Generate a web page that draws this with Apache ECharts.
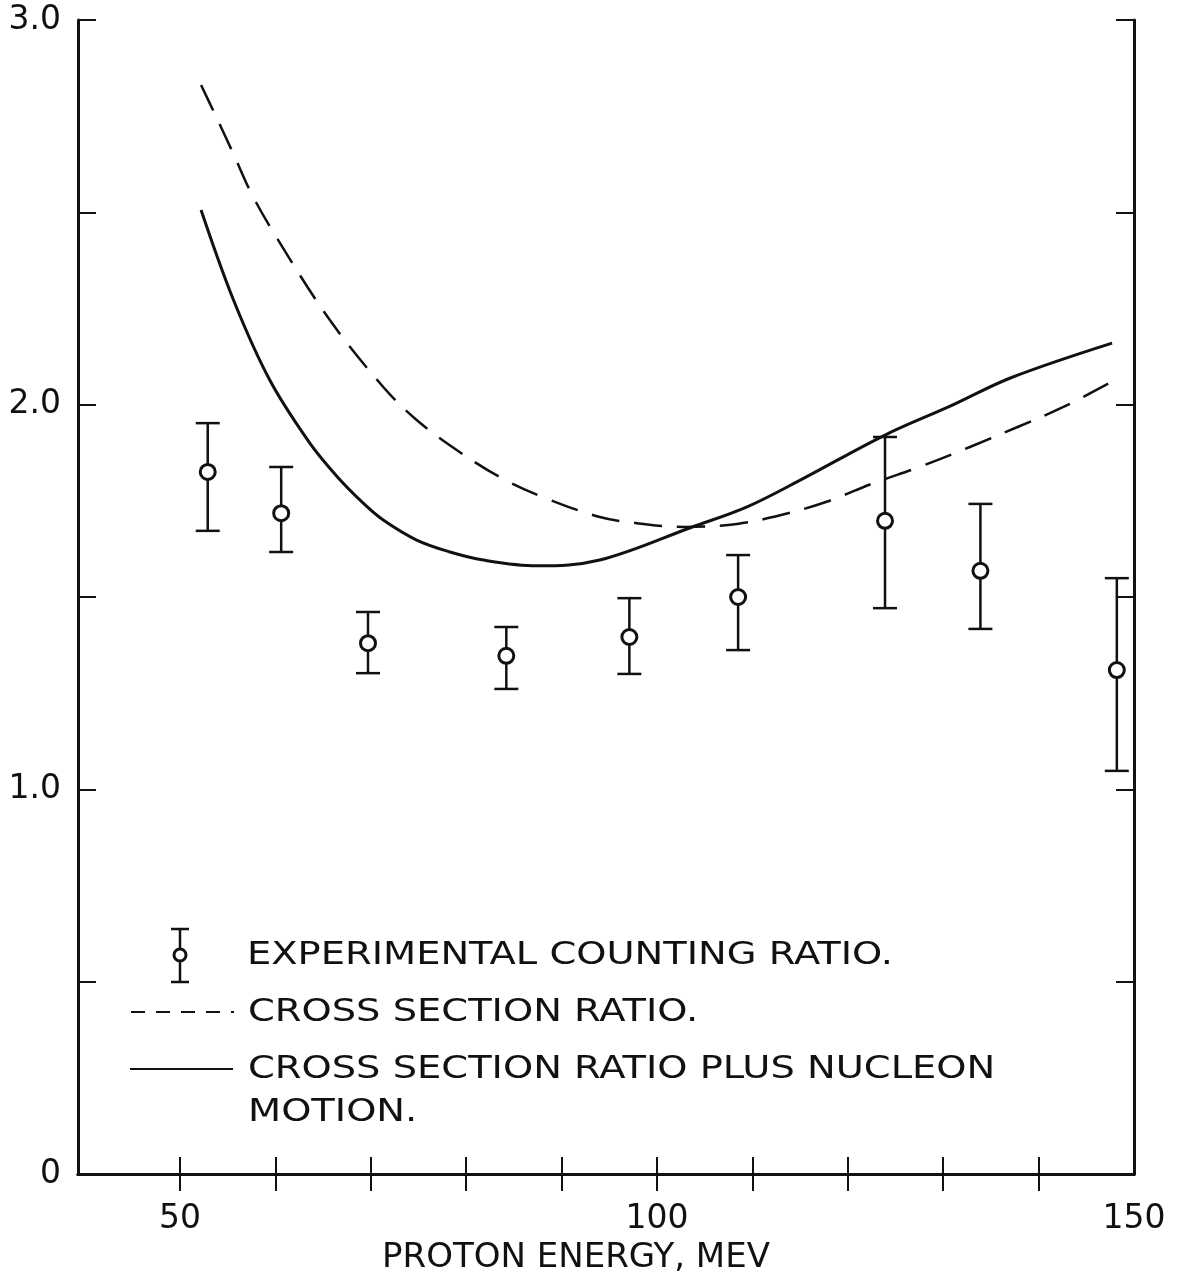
<!DOCTYPE html>
<html><head><meta charset="utf-8">
<script src="https://cdn.jsdelivr.net/npm/echarts@6/dist/echarts.min.js"></script>
<style>html,body{margin:0;padding:0;background:#fff}#c{width:1178px;height:1282px}</style>
</head><body><div id="c"></div>
<script>
// Experimental counting ratio with error bars
const expEnergy = [52.9, 60.6, 69.7, 84.2, 97.1, 108.5, 123.9, 133.9, 148.2];
const expRatio  = [1.825, 1.718, 1.380, 1.347, 1.396, 1.500, 1.698, 1.568, 1.310];
const expLow    = [1.672, 1.617, 1.302, 1.261, 1.300, 1.362, 1.471, 1.417, 1.048];
const expHigh   = [1.952, 1.838, 1.461, 1.422, 1.497, 1.609, 1.916, 1.742, 1.549];

// Cross section ratio (dashed)
const csEnergy = [52.2, 53.6, 55.5, 57.5, 60.2, 65.7, 71.3, 74.8, 79.0, 83.5, 88.0, 94.0, 97.9, 102.9, 108.4, 113.0, 117.7, 122.7, 127.5, 132.8, 137.8, 142.6, 148.0];
const csRatio  = [2.831, 2.758, 2.657, 2.548, 2.431, 2.22, 2.046, 1.960, 1.882, 1.812, 1.760, 1.708, 1.692, 1.682, 1.690, 1.713, 1.747, 1.796, 1.838, 1.890, 1.942, 1.994, 2.064];

// Cross section ratio plus nucleon motion (solid)
const nmEnergy = [52.2, 55.6, 59.4, 63.6, 66.5, 69.2, 71.3, 74.8, 78.3, 81.8, 87.4, 94.0, 103.7, 109.5, 115.4, 123.9, 130.9, 137.1, 147.7];
const nmRatio  = [2.506, 2.272, 2.064, 1.900, 1.812, 1.744, 1.700, 1.648, 1.617, 1.596, 1.581, 1.596, 1.682, 1.735, 1.809, 1.921, 1.998, 2.070, 2.160];

// Axis ticks / labels
const xTickValues  = [50, 60, 70, 80, 90, 100, 110, 120, 130, 140];
const xLabelValues = [50, 100, 150];

const INK = '#111';
const FONT = 'DejaVu Sans';
const LEGEND_FONT = '32px "DejaVu Sans"';

const chart = echarts.init(document.getElementById('c'), null, {renderer: 'canvas'});

const axisLineStyle = {show: true, lineStyle: {color: INK, width: 3}};

const option = {
  backgroundColor: '#fff',
  animation: false,
  grid: {left: 78, right: 44, top: 20, bottom: 108, containLabel: false},
  xAxis: [
    {
      type: 'value', position: 'bottom', min: 39.3, max: 150,
      axisLine: axisLineStyle,
      axisTick: {show: true, inside: true, length: 17, lineStyle: {color: INK, width: 2}, customValues: xTickValues},
      axisLabel: {show: true, customValues: xLabelValues, margin: 29, color: INK, fontFamily: FONT, fontSize: 33},
      splitLine: {show: false},
      name: 'PROTON ENERGY, MEV', nameLocation: 'middle', nameGap: 54,
      nameTextStyle: {color: INK, fontFamily: FONT, fontSize: 34, padding: [0, 60, 0, 0]}
    },
    {
      type: 'value', position: 'top', min: 39.3, max: 150,
      axisLine: axisLineStyle,
      axisTick: {show: true, inside: true, length: 17, lineStyle: {color: INK, width: 2}, customValues: xTickValues},
      axisLabel: {show: false},
      splitLine: {show: false}
    }
  ],
  yAxis: [
    {
      type: 'value', position: 'left', min: 0, max: 3, interval: 0.5,
      axisLine: axisLineStyle,
      axisTick: {show: true, inside: true, length: 18, lineStyle: {color: INK, width: 2}},
      axisLabel: {
        show: true, margin: 17, color: INK, fontFamily: FONT, fontSize: 33,
        formatter: v => (Math.abs(v - Math.round(v)) > 1e-6 ? '' : (v === 0 ? '0' : v.toFixed(1)))
      },
      splitLine: {show: false}
    },
    {
      type: 'value', position: 'right', min: 0, max: 3, interval: 0.5,
      axisLine: axisLineStyle,
      axisTick: {show: true, inside: true, length: 18, lineStyle: {color: INK, width: 2}},
      axisLabel: {show: false},
      splitLine: {show: false}
    }
  ],
  series: [
    {
      name: 'CROSS SECTION RATIO.',
      type: 'line', smooth: 0.35, symbol: 'none',
      lineStyle: {color: INK, width: 2.5, type: [28, 15]},
      data: csEnergy.map((e, i) => [e, csRatio[i]]),
      z: 2
    },
    {
      name: 'CROSS SECTION RATIO PLUS NUCLEON MOTION.',
      type: 'line', smooth: 0.35, symbol: 'none',
      lineStyle: {color: INK, width: 3},
      data: nmEnergy.map((e, i) => [e, nmRatio[i]]),
      z: 2
    },
    {
      name: 'error bars',
      type: 'custom',
      renderItem: function (params, api) {
        const x = api.value(0), lo = api.value(1), hi = api.value(2);
        const pLo = api.coord([x, lo]);
        const pHi = api.coord([x, hi]);
        const w = 12;
        const st = {stroke: INK, lineWidth: 2.5};
        return {
          type: 'group',
          children: [
            {type: 'line', shape: {x1: pLo[0], y1: pLo[1], x2: pHi[0], y2: pHi[1]}, style: st},
            {type: 'line', shape: {x1: pLo[0] - w, y1: pLo[1], x2: pLo[0] + w, y2: pLo[1]}, style: st},
            {type: 'line', shape: {x1: pHi[0] - w, y1: pHi[1], x2: pHi[0] + w, y2: pHi[1]}, style: st}
          ]
        };
      },
      encode: {x: 0, y: [1, 2]},
      data: expEnergy.map((e, i) => [e, expLow[i], expHigh[i]]),
      z: 3
    },
    {
      name: 'EXPERIMENTAL COUNTING RATIO.',
      type: 'scatter', symbol: 'circle', symbolSize: 15,
      itemStyle: {color: '#fff', borderColor: INK, borderWidth: 3, opacity: 1},
      data: expEnergy.map((e, i) => [e, expRatio[i]]),
      z: 4
    }
  ],
  graphic: [
    // legend: error bar symbol
    {type: 'line', shape: {x1: 180, y1: 929, x2: 180, y2: 982}, style: {stroke: INK, lineWidth: 2.5}},
    {type: 'line', shape: {x1: 171, y1: 929, x2: 189, y2: 929}, style: {stroke: INK, lineWidth: 2.5}},
    {type: 'line', shape: {x1: 171, y1: 982, x2: 189, y2: 982}, style: {stroke: INK, lineWidth: 2.5}},
    {type: 'circle', shape: {cx: 180, cy: 955, r: 6}, style: {fill: '#fff', stroke: INK, lineWidth: 3}, z: 10},
    {type: 'text', x: 247, y: 956, scaleX: 1.2, style: {text: 'EXPERIMENTAL COUNTING RATIO.', fill: INK, font: LEGEND_FONT, verticalAlign: 'middle', align: 'left'}},
    // legend: dashed
    {type: 'line', shape: {x1: 131, y1: 1012, x2: 234, y2: 1012}, style: {stroke: INK, lineWidth: 2, lineDash: [14, 11]}},
    {type: 'text', x: 248, y: 1013, scaleX: 1.2, style: {text: 'CROSS SECTION RATIO.', fill: INK, font: LEGEND_FONT, verticalAlign: 'middle', align: 'left'}},
    // legend: solid
    {type: 'line', shape: {x1: 130, y1: 1069, x2: 233, y2: 1069}, style: {stroke: INK, lineWidth: 2}},
    {type: 'text', x: 248, y: 1070, scaleX: 1.2, style: {text: 'CROSS SECTION RATIO PLUS NUCLEON', fill: INK, font: LEGEND_FONT, verticalAlign: 'middle', align: 'left'}},
    {type: 'text', x: 248, y: 1113, scaleX: 1.2, style: {text: 'MOTION.', fill: INK, font: LEGEND_FONT, verticalAlign: 'middle', align: 'left'}}
  ]
};

chart.setOption(option);
</script>
</body></html>
